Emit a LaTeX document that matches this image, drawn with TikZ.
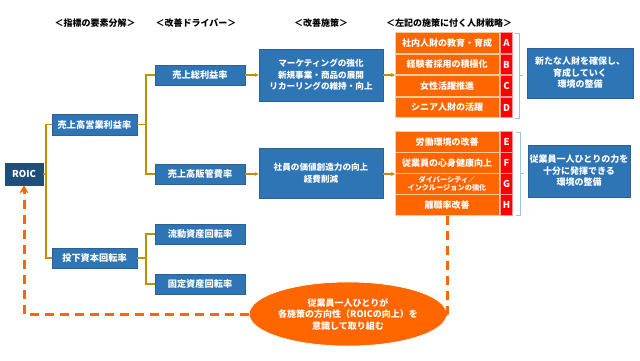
\documentclass[tikz,border=0pt]{standalone}
\usepackage{fontspec}
\setmainfont{Noto Sans CJK JP}
\usetikzlibrary{shapes.geometric,arrows.meta}
\definecolor{bluefill}{HTML}{2E75B6}
\definecolor{blueedge}{HTML}{2F5F95}
\definecolor{navy}{HTML}{1F4E79}
\definecolor{gold}{HTML}{BF9000}
\definecolor{orng}{HTML}{FF6600}
\definecolor{redl}{HTML}{FF0000}
\definecolor{brk}{HTML}{9DC3E6}
\tikzset{
  bbox/.style={draw=blueedge, line width=0.6pt, fill=bluefill, text=white, inner sep=0pt, align=center,
    font=\bfseries\fontsize{9.2}{11}\selectfont},
  obox/.style={draw=orange!40!white, line width=0.8pt, fill=orng, text=white, inner sep=0pt, align=center,
    minimum width=104pt, minimum height=20.5pt, font=\bfseries\fontsize{9}{10}\selectfont},
  lbox/.style={draw=redl!40!white, line width=0.8pt, fill=redl, text=white, inner sep=0pt,
    minimum width=12pt, minimum height=20.5pt, font=\bfseries\fontsize{9.5}{10}\selectfont},
  hdr/.style={font=\bfseries\fontsize{9}{10}\selectfont, inner sep=0pt},
  gline/.style={draw=gold, line width=1.2pt},
  garrow/.style={draw=gold, line width=1.2pt, -{Stealth[length=4pt,width=4pt]}},
  brack/.style={draw=brk, line width=0.8pt},
  odash/.style={draw=orng, line width=3pt, dash pattern=on 9pt off 6pt}
}
\begin{document}
\begin{tikzpicture}[x=1pt,y=-1pt]
\useasboundingbox[fill=white] (0,0) rectangle (640,360);

% headers
\node[hdr] (h1) at (95,23) {＜指標の要素分解＞};
\node[hdr] (h2) at (196,23) {＜改善ドライバー＞};
\node[hdr] (h3) at (321,23) {＜改善施策＞};
\node[hdr] (h4) at (449,23) {＜左記の施策に付く人財戦略＞};

% ROIC
\node[bbox, fill=navy, draw=navy, minimum width=38pt, minimum height=22pt, font=\bfseries\fontsize{9.5}{10}\selectfont] (roic) at (24,174) {ROIC};

% level 1
\node[bbox, minimum width=85pt, minimum height=21pt] (eig) at (94.5,124.5) {売上高営業利益率};
\node[bbox, minimum width=85pt, minimum height=20pt] (tou) at (94.5,258) {投下資本回転率};

% level 2
\node[bbox, minimum width=90pt, minimum height=20pt] (sou) at (200,75) {売上総利益率};
\node[bbox, minimum width=90pt, minimum height=20pt] (han) at (200,174) {売上高販管費率};
\node[bbox, minimum width=90pt, minimum height=20pt] (ryu) at (200,234) {流動資産回転率};
\node[bbox, minimum width=90pt, minimum height=20pt] (kot) at (200,284) {固定資産回転率};

% level 3
\node[bbox, minimum width=124pt, minimum height=52pt, font=\bfseries\fontsize{8.6}{11.5}\selectfont] (s1) at (321,75) {マーケティングの強化\\新規事業・商品の展開\\リカーリングの維持・向上};
\node[bbox, minimum width=124pt, minimum height=50pt, font=\bfseries\fontsize{8.6}{11.5}\selectfont] (s2) at (321,173) {社員の価値創造力の向上\\経費削減};

% orange strategies
\node[obox] (A) at (447,43) {社内人財の教育・育成};
\node[obox] (B) at (447,64.5) {経験者採用の積極化};
\node[obox] (C) at (447,86) {女性活躍推進};
\node[obox] (D) at (447,107.5) {シニア人財の活躍};
\node[obox] (E) at (447,142) {労働環境の改善};
\node[obox] (F) at (447,163) {従業員の心身健康向上};
\node[obox, font=\bfseries\fontsize{7.2}{8.2}\selectfont] (G) at (447,184) {ダイバーシティ／\\インクルージョンの強化};
\node[obox] (H) at (447,205) {離職率改善};

\node[lbox] (lA) at (506.5,43) {A};
\node[lbox] (lB) at (506.5,64.5) {B};
\node[lbox] (lC) at (506.5,86) {C};
\node[lbox] (lD) at (506.5,107.5) {D};
\node[lbox] (lE) at (506.5,142) {E};
\node[lbox] (lF) at (506.5,163) {F};
\node[lbox] (lG) at (506.5,184) {G};
\node[lbox] (lH) at (506.5,205) {H};

% right boxes
\node[bbox, minimum width=106pt, minimum height=50pt, font=\bfseries\fontsize{9}{11.5}\selectfont] (r1) at (580,73) {新たな人財を確保し、\\育成していく\\環境の整備};
\node[bbox, minimum width=102pt, minimum height=52pt, font=\bfseries\fontsize{9}{11.5}\selectfont] (r2) at (579,171) {従業員一人ひとりの力を\\十分に発揮できる\\環境の整備};

% brackets
\coordinate (b1t) at (515,33);
\coordinate (b1b) at (515,118);
\coordinate (b1m) at (523,75.5);
\draw[brack] (b1t) -- ++(4,0) -- ++(0,85) -- (b1b);
\draw[brack] (519,75.5) -- (b1m);
\coordinate (b2t) at (516,132);
\coordinate (b2b) at (516,215);
\coordinate (b2m) at (524,173.5);
\draw[brack] (b2t) -- ++(4,0) -- ++(0,83) -- (b2b);
\draw[brack] (520,173.5) -- (b2m);

% gold tree connectors
\coordinate (j1) at (46,174);
\coordinate (j2) at (146,124.5);
\coordinate (j3) at (146,258);
\coordinate (t1) at (395,75);
\coordinate (t2) at (395,174);
\draw[gline] (roic.east) -- (j1) |- (eig.west);
\draw[gline] (j1) |- (tou.west);
\draw[gline] (eig.east) -- (j2) |- (sou.west);
\draw[gline] (j2) |- (han.west);
\draw[gline] (tou.east) -- (j3) |- (ryu.west);
\draw[gline] (j3) |- (kot.west);
\draw[garrow] (sou.east) -- (s1.west |- sou.east);
\draw[garrow] (han.east) -- (s2.west |- han.east);
\draw[garrow] (s1.east |- sou.east) -- (t1);
\draw[garrow] (s2.east |- han.east) -- (t2);

% ellipse
\node[ellipse, fill=orng, draw=white, line width=0.6pt, minimum width=176pt, minimum height=64pt, inner sep=0pt, text=white, align=center,
  font=\bfseries\fontsize{9}{11.5}\selectfont] (ell) at (348,314) {従業員一人ひとりが\\各施策の方向性（ROICの向上）を\\意識して取り組む};

% dashed feedback
\coordinate (d1) at (447,314);
\coordinate (d2) at (24,314);
\draw[odash] (H.south) -- (d1) -- (ell.east);
\draw[odash, -{Stealth[length=8pt,width=9pt]}] (ell.west) -- (d2) -- (roic.south);
\end{tikzpicture}
\end{document}
